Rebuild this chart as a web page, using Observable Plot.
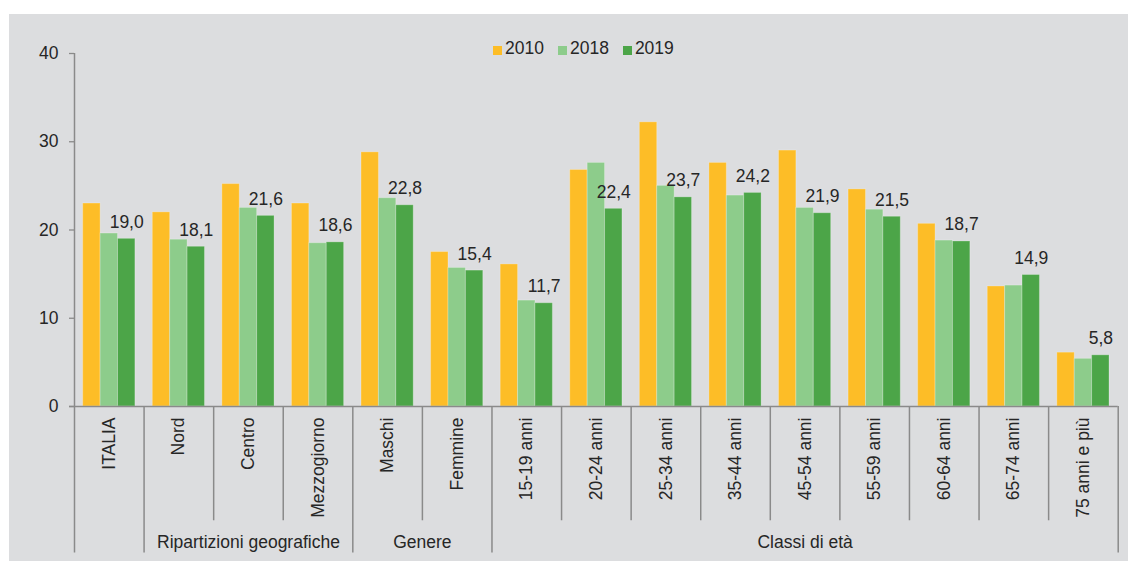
<!DOCTYPE html>
<html>
<head>
<meta charset="utf-8">
<script src="https://cdn.jsdelivr.net/npm/d3@7"></script>
<script src="https://cdn.jsdelivr.net/npm/@observablehq/plot@0.6"></script>
<style>
  html, body { margin: 0; padding: 0; background: #ffffff; }
  #wrap { position: relative; width: 1128px; height: 561px; overflow: hidden; font-family: "Liberation Sans", Arial, sans-serif; }
  #panel { position: absolute; left: 9px; top: 14px; right: 0; bottom: 0; background: #dcdddf; }
  #chart { position: absolute; left: 0; top: 0; }
  #legend { position: absolute; left: 493px; top: 38px; display: flex; align-items: center; font-size: 17.5px; color: #262626; }
  #legend .item { display: flex; align-items: center; margin-right: 14px; }
  #legend .sw { width: 9px; height: 9px; margin-right: 3px; margin-top: 3px; }
</style>
</head>
<body>
<div id="wrap">
  <div id="panel"></div>
  <div id="chart"></div>
  <div id="legend"></div>
</div>
<script>
// ---- data ----
const categories = ["ITALIA", "Nord", "Centro", "Mezzogiorno", "Maschi", "Femmine",
  "15-19 anni", "20-24 anni", "25-34 anni", "35-44 anni", "45-54 anni",
  "55-59 anni", "60-64 anni", "65-74 anni", "75 anni e più"];
const groupOf = ["", "Ripartizioni geografiche", "Ripartizioni geografiche", "Ripartizioni geografiche",
  "Genere", "Genere",
  "Classi di età", "Classi di età", "Classi di età", "Classi di età", "Classi di età",
  "Classi di età", "Classi di età", "Classi di età", "Classi di età"];
const years = ["2010", "2018", "2019"];
const v2010 = [23.0, 22.0, 25.2, 23.0, 28.8, 17.5, 16.1, 26.8, 32.2, 27.6, 29.0, 24.6, 20.7, 13.6, 6.1];
const v2018 = [19.6, 18.9, 22.5, 18.5, 23.6, 15.7, 12.0, 27.6, 25.0, 23.9, 22.5, 22.3, 18.8, 13.7, 5.4];
const v2019 = [19.0, 18.1, 21.6, 18.6, 22.8, 15.4, 11.7, 22.4, 23.7, 24.2, 21.9, 21.5, 18.7, 14.9, 5.8];
const yTicks = [0, 10, 20, 30, 40];
const colors = ["#fdbd27", "#8dcc8b", "#4ca548"];

// ---- derived tables ----
const series = [v2010, v2018, v2019];
const rows = [];
categories.forEach((c, i) => {
  years.forEach((y, j) => {
    rows.push({cat: c, idx: i, year: y, j, value: series[j][i]});
  });
});
const outer = 0.125, barW = 0.25;
const labels = categories.map((c, i) => ({idx: i, value: v2019[i], text: v2019[i].toFixed(1).replace(".", ",")}));

const bounds = d3.range(0, categories.length + 1).map(i => ({
  x: i,
  major: i === 0 || i === categories.length || groupOf[i] !== groupOf[i - 1]
}));
const groupSpans = [];
groupOf.forEach((g, i) => {
  const last = groupSpans[groupSpans.length - 1];
  if (last && last.label === g) last.to = i + 1;
  else groupSpans.push({label: g, from: i, to: i + 1});
});
const namedGroups = groupSpans.filter(g => g.label !== "");

const ink = "#262626";
const axisCol = "#8a8a8a";
const fs = 17.5;

const chart = Plot.plot({
  width: 1128,
  height: 561,
  marginLeft: 74,
  marginRight: 10.3,
  marginTop: 53,
  marginBottom: 155,
  style: {background: "transparent", fontFamily: "'Liberation Sans', Arial, sans-serif", fontSize: fs + "px", color: ink, overflow: "visible"},
  x: {type: "linear", domain: [0, categories.length], axis: null},
  y: {type: "linear", domain: [0, 40], axis: null},
  color: {domain: years, range: colors},
  marks: [
    Plot.rectY(rows, {
      x1: d => d.idx + outer + d.j * barW,
      x2: d => d.idx + outer + (d.j + 1) * barW,
      y1: 0,
      y2: "value",
      fill: "year",
      stroke: "#ffffff",
      strokeOpacity: 0.25,
      strokeWidth: 1
    }),
    // y axis
    Plot.ruleX([0], {y1: 0, y2: 40, stroke: axisCol, strokeWidth: 1.5}),
    Plot.axisY({ticks: yTicks, tickSize: 5, tickPadding: 11, tickFormat: d => d, label: null, stroke: axisCol, strokeOpacity: 1, strokeWidth: 1.3, color: ink, fontSize: fs}),
    // x axis baseline
    Plot.ruleY([0], {x1: 0, x2: categories.length, stroke: axisCol, strokeWidth: 1.5, insetLeft: -5}),
    // category boundaries
    Plot.ruleX(bounds.filter(b => !b.major), {x: "x", y1: 0, y2: -12.95, stroke: axisCol, strokeWidth: 1.5}),
    Plot.ruleX(bounds.filter(b => b.major), {x: "x", y1: 0, y2: -16.6, stroke: axisCol, strokeWidth: 1.5}),
    // category labels
    Plot.text(categories, {
      x: (d, i) => i + 0.5,
      frameAnchor: "bottom",
      text: d => d,
      rotate: -90,
      textAnchor: "end",
      lineAnchor: "middle",
      dy: 11,
      fill: ink,
      fontSize: fs
    }),
    // group labels
    Plot.text(namedGroups, {
      x: d => (d.from + d.to) / 2,
      frameAnchor: "bottom",
      text: "label",
      dy: 136,
      lineAnchor: "middle",
      fill: ink,
      fontSize: fs
    }),
    // value labels (2019)
    Plot.text(labels, {
      x: d => d.idx + outer + 2.5 * barW,
      y: "value",
      text: "text",
      lineAnchor: "bottom",
      dy: -11,
      fill: ink,
      fontSize: fs
    })
  ]
});
document.getElementById("chart").appendChild(chart);

// legend
const legend = document.getElementById("legend");
years.forEach((y, j) => {
  const item = document.createElement("div");
  item.className = "item";
  const sw = document.createElement("span");
  sw.className = "sw";
  sw.style.background = colors[j];
  const t = document.createElement("span");
  t.textContent = y;
  item.appendChild(sw);
  item.appendChild(t);
  legend.appendChild(item);
});
</script>
</body>
</html>
